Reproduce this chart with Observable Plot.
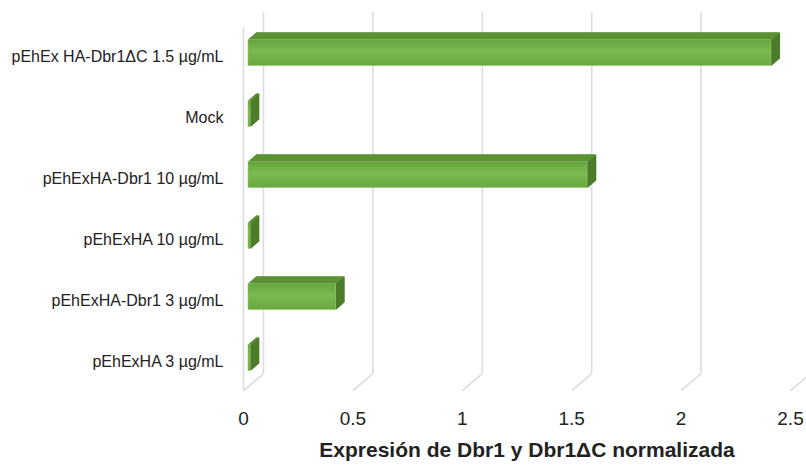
<!DOCTYPE html>
<html><head><meta charset="utf-8">
<script src="https://cdn.jsdelivr.net/npm/d3@7"></script>
<script src="https://cdn.jsdelivr.net/npm/@observablehq/plot@0.6"></script>
<style>body{margin:0;background:#fff}</style>
</head><body><div id="chart"></div>
<script>
// ---- data ----
const categories = ["pEhEx HA-Dbr1ΔC 1.5 µg/mL", "Mock", "pEhExHA-Dbr1 10 µg/mL", "pEhExHA 10 µg/mL", "pEhExHA-Dbr1 3 µg/mL", "pEhExHA 3 µg/mL"];
const values = [2.39, 0.01, 1.55, 0.01, 0.40, 0.01];
const xTicks = [0, 0.5, 1, 1.5, 2, 2.5];
const xTickLabels = ["0", "0.5", "1", "1.5", "2", "2.5"];
const xTitle = "Expresión de Dbr1 y Dbr1ΔC normalizada";

const data = categories.map((c, i) => ({cat: c, idx: i, value: values[i]}));

// ---- styling / projection constants ----
const GRID = "#d9dce4";
const SIDE = "#4d7d2b";
const TOP = "#5d9136";
const HALF = 0.213;          // half bar thickness (y units)
const Y_FLOOR = 5.47;        // front floor edge
const Y_TOP = -0.48;         // front top edge
const DEPTH_PX = [20, -17];  // oblique depth of the wall (px)
const DEPTH_X = 20 / 219, DEPTH_Y = -17 / 61; // same depth in data units
const N = 16;

const sideFaces = [], topFaces = [];
for (let k = 0; k <= N; k++) {
  const dx = 5 + 8 * k / N, dy = -4 - 7 * k / N;
  sideFaces.push(Plot.ruleX(data, {x: "value", y1: d => d.idx - HALF, y2: d => d.idx + HALF, dx, dy, stroke: SIDE, strokeWidth: 1.3}));
  topFaces.push(Plot.ruleY(data, {y: d => d.idx - HALF, x1: 0, x2: "value", dx, dy, stroke: TOP, strokeWidth: 1.3}));
}

const svg = Plot.plot({
  width: 806,
  height: 470,
  marginLeft: 243,
  marginRight: 16,
  marginTop: 26,
  marginBottom: 78,
  style: {fontFamily: "'Liberation Sans', Arial, sans-serif", color: "#222", background: "#fff"},
  x: {domain: [0, 2.5]},
  y: {domain: [-0.5, 5.5], reverse: true},
  marks: [
    // back wall gridlines
    Plot.ruleX(xTicks, {x: d => d, y1: Y_TOP + 0.03, y2: Y_FLOOR, dx: DEPTH_PX[0], dy: DEPTH_PX[1], stroke: GRID, strokeWidth: 1.6}),
    // floor diagonals
    Plot.link(xTicks, {x1: d => d, y1: Y_FLOOR, x2: d => d + DEPTH_X, y2: Y_FLOOR + DEPTH_Y, stroke: GRID, strokeWidth: 1.6}),
    // left wall front edge
    Plot.ruleX([0], {x: d => d, y1: Y_TOP, y2: Y_FLOOR, stroke: GRID, strokeWidth: 1.6}),
    // bars (3D)
    ...sideFaces,
    ...topFaces,
    Plot.rect(data, {x1: 0, x2: "value", y1: d => d.idx - HALF, y2: d => d.idx + HALF, dx: 5, dy: -4, fill: "url(#barGrad)", stroke: "#92c46c", strokeWidth: 0.8, strokeOpacity: 0.7}),
    // axes
    Plot.axisY({ticks: d3.range(categories.length), tickFormat: i => categories[i], tickSize: 0, tickPadding: 20, fontSize: 16, label: null}),
    Plot.axisX({ticks: xTicks, tickFormat: d => xTickLabels[xTicks.indexOf(d)], tickSize: 0, tickPadding: 19, fontSize: 19, label: null}),
    Plot.text([xTitle], {text: d => d, frameAnchor: "bottom", dx: 10, dy: 64, fontSize: 21, fontWeight: "bold", fill: "#222"})
  ]
});

const ns = "http://www.w3.org/2000/svg";
const defs = document.createElementNS(ns, "defs");
defs.innerHTML = `<linearGradient id="barGrad" x1="0" y1="0" x2="0" y2="1">
  <stop offset="0" stop-color="#66a53d"/>
  <stop offset="0.45" stop-color="#7bb951"/>
  <stop offset="1" stop-color="#68a83f"/>
</linearGradient>`;
svg.insertBefore(defs, svg.firstChild);
document.getElementById("chart").appendChild(svg);
</script>
</body></html>
